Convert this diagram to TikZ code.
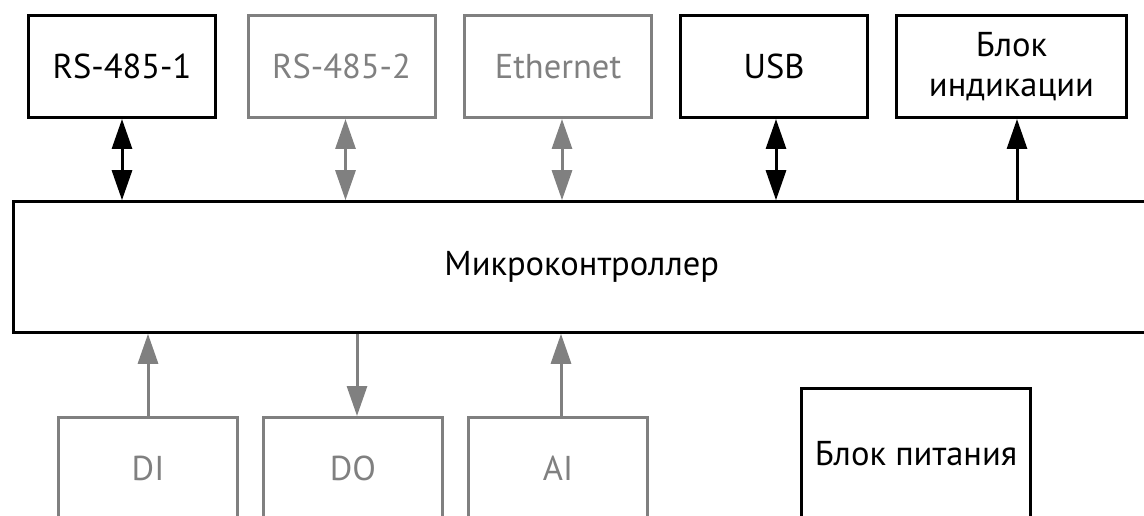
\documentclass[tikz,border=0pt]{standalone}
\usepackage{fontspec}
\setmainfont{PT Sans}
\usetikzlibrary{arrows.meta}
\definecolor{gr}{HTML}{808080}
\tikzset{
  box/.style={draw, line width=3pt, rectangle, inner sep=0pt, align=center,
    font=\fontsize{34.5}{40}\selectfont},
  blk/.style={box, draw=black, text=black},
  gbox/.style={box, draw=gr, text=gr},
  dbl/.style={line width=3pt, {Triangle[length=30pt,width=20pt]}-{Triangle[length=30pt,width=20pt]}},
  one/.style={line width=3pt, -{Triangle[length=30pt,width=20pt]}},
}
\begin{document}
\begin{tikzpicture}[x=1pt,y=-1pt]
\useasboundingbox (0,0) rectangle (1144,516);
\clip (0,0) rectangle (1144,516);
\node[blk, minimum width=187pt, minimum height=102pt] (rs1) at (122,66.5) {RS-485-1};
\node[gbox, minimum width=187pt, minimum height=102pt] (rs2) at (341.5,66.5) {RS-485-2};
\node[gbox, minimum width=187pt, minimum height=102pt] (eth) at (558,66.5) {Ethernet};
\node[blk, minimum width=187pt, minimum height=102pt] (usb) at (774,66.5) {USB};
\node[blk, minimum width=230pt, minimum height=102pt] (ind) at (1011.5,66.5) {Блок\\индикации};
\node[blk, minimum width=1136.5pt, minimum height=130.6pt] (mcu) at (581.75,267) {Микроконтроллер};
\node[gbox, minimum width=179pt, minimum height=102pt] (di) at (148,468.5) {DI};
\node[gbox, minimum width=179pt, minimum height=102pt] (do) at (353,468.5) {DO};
\node[gbox, minimum width=179pt, minimum height=102pt] (ai) at (558,468.5) {AI};
\node[blk, minimum width=229pt, minimum height=130pt] (pwr) at (916,453.5) {Блок питания};
\draw[dbl, draw=black, fill=black] (rs1.south) -- (rs1.south |- mcu.north);
\draw[dbl, draw=gr, fill=gr] ([xshift=4pt]rs2.south) -- ([xshift=4pt]rs2.south |- mcu.north);
\draw[dbl, draw=gr, fill=gr] ([xshift=4pt]eth.south) -- ([xshift=4pt]eth.south |- mcu.north);
\draw[dbl, draw=black, fill=black] ([xshift=2pt]usb.south) -- ([xshift=2pt]usb.south |- mcu.north);
\draw[one, draw=black, fill=black] ([xshift=5.5pt]ind.south |- mcu.north) -- ([xshift=5.5pt]ind.south);
\draw[one, draw=gr, fill=gr] (di.north) -- (di.north |- mcu.south);
\draw[one, draw=gr, fill=gr] ([xshift=4pt]do.north |- mcu.south) -- ([xshift=4pt]do.north);
\draw[one, draw=gr, fill=gr] ([xshift=3pt]ai.north) -- ([xshift=3pt]ai.north |- mcu.south);
\end{tikzpicture}
\end{document}
